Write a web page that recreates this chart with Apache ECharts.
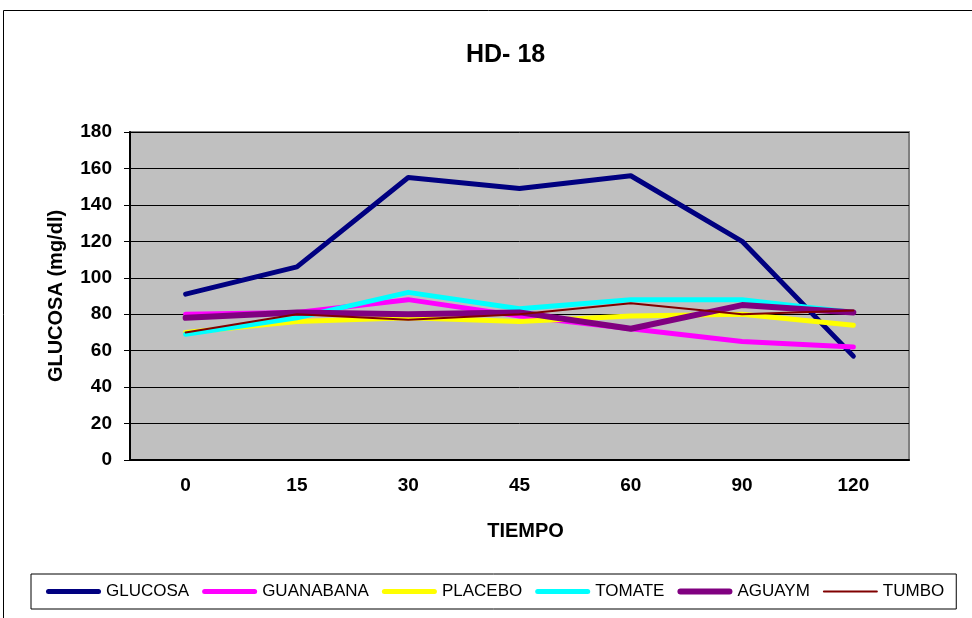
<!DOCTYPE html>
<html>
<head>
<meta charset="utf-8">
<script src="https://cdn.jsdelivr.net/npm/echarts@6/dist/echarts.min.js"></script>
<style>html,body{margin:0;padding:0;background:#fff}#c{width:972px;height:618px}</style>
</head>
<body>
<div id="c"></div>
<script>
const categories = ['0', '15', '30', '45', '60', '90', '120'];
const glucosa   = [91, 106, 155, 149, 156, 120, 57];
const guanabana = [80, 81, 88, 79, 72, 65, 62];
const placebo   = [70, 76, 78, 76, 79, 80, 74];
const tomate    = [69, 78, 92, 83, 88, 88, 81];
const aguaym    = [78, 81, 80, 81, 72, 85, 81];
const tumbo     = [70, 80, 77, 80, 86, 80, 82];
const yTicks = {min: 0, max: 180, interval: 20};

const FONT = '"Liberation Sans", Arial, sans-serif';
const seriesDefs = [
  {name: 'GLUCOSA', data: glucosa, color: '#000080', width: 5},
  {name: 'GUANABANA', data: guanabana, color: '#FF00FF', width: 5},
  {name: 'PLACEBO', data: placebo, color: '#FFFF00', width: 5},
  {name: 'TOMATE', data: tomate, color: '#00FFFF', width: 5},
  {name: 'AGUAYM', data: aguaym, color: '#800080', width: 6},
  {name: 'TUMBO', data: tumbo, color: '#800000', width: 2}
];

function barIcon(w) {
  const a = 4 - w / 2, b = 4 + w / 2, r = w / 2;
  return 'path://M0,0M55,8M' + r + ',' + a + 'H' + (55 - r) +
    'A' + r + ',' + r + ',0,0,1,' + (55 - r) + ',' + b +
    'H' + r + 'A' + r + ',' + r + ',0,0,1,' + r + ',' + a + 'Z';
}

const chart = echarts.init(document.getElementById('c'), null, {renderer: 'canvas'});
chart.setOption({
  animation: false,
  backgroundColor: '#ffffff',
  textStyle: {fontFamily: FONT},
  graphic: [{
    type: 'rect', z: -10, silent: true,
    shape: {x: 3.5, y: 10.5, width: 1000, height: 700},
    style: {fill: 'none', stroke: '#000', lineWidth: 1}
  }],
  title: {
    text: 'HD- 18', left: 461, top: 38,
    textStyle: {fontFamily: FONT, fontSize: 25, fontWeight: 'bold', color: '#000'}
  },
  grid: {
    left: 130, top: 132, right: 63, bottom: 158,
    show: true, backgroundColor: '#C0C0C0', borderColor: '#808080', borderWidth: 2
  },
  legend: {
    left: 31, top: 574,
    padding: [9, 12, 9, 15],
    borderColor: '#000', borderWidth: 1,
    itemWidth: 55, itemHeight: 8, itemGap: 13,
    textStyle: {fontFamily: FONT, fontSize: 17, color: '#000'},
    data: seriesDefs.map(s => ({name: s.name, icon: barIcon(s.width), itemStyle: {color: s.color}}))
  },
  xAxis: {
    type: 'category', data: categories, boundaryGap: true,
    name: 'TIEMPO', nameLocation: 'middle', nameGap: 61,
    nameTextStyle: {fontFamily: FONT, fontSize: 20, fontWeight: 'bold', color: '#000', padding: [0, 0, 0, 12]},
    axisLine: {lineStyle: {color: '#000', width: 2}},
    axisTick: {inside: true, length: 6, lineStyle: {color: '#000', width: 1}},
    axisLabel: {margin: 16, fontFamily: FONT, fontSize: 19, fontWeight: 'bold', color: '#000'},
    splitLine: {show: false}
  },
  yAxis: {
    type: 'value', min: yTicks.min, max: yTicks.max, interval: yTicks.interval,
    name: 'GLUCOSA (mg/dl)', nameLocation: 'middle', nameGap: 64, nameRotate: 90,
    nameTextStyle: {fontFamily: FONT, fontSize: 20, fontWeight: 'bold', color: '#000'},
    axisLine: {show: true, lineStyle: {color: '#000', width: 2}},
    axisTick: {show: true, length: 6, lineStyle: {color: '#000', width: 1}},
    axisLabel: {margin: 18, fontFamily: FONT, fontSize: 19, fontWeight: 'bold', color: '#000'},
    splitLine: {show: true, lineStyle: {color: '#000', width: 1}}
  },
  series: seriesDefs.map(s => ({
    name: s.name, type: 'line', data: s.data,
    symbol: 'none', showSymbol: false,
    color: s.color,
    lineStyle: {color: s.color, width: s.width, cap: 'round', join: 'round'},
    itemStyle: {color: s.color}
  }))
});
</script>
</body>
</html>
